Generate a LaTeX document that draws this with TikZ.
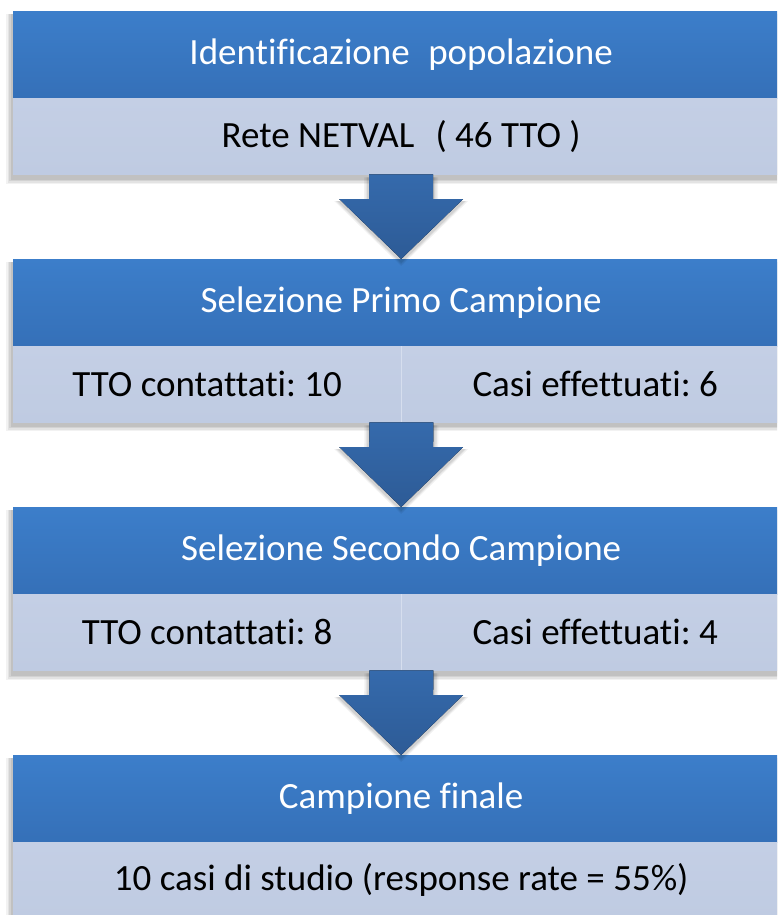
\documentclass[tikz,border=0pt]{standalone}
\usepackage{fontspec}
\setmainfont[Ligatures={TeX,NoCommon}]{Carlito}
\frenchspacing
\usetikzlibrary{calc}

\definecolor{hdrtop}{RGB}{60,126,202}
\definecolor{hdrbot}{RGB}{53,112,184}
\definecolor{bodytop}{RGB}{196,207,229}
\definecolor{bodybot}{RGB}{191,203,226}
\definecolor{arrtop}{RGB}{53,106,172}
\definecolor{arrbot}{RGB}{45,91,150}
\definecolor{divline}{RGB}{214,222,238}

\tikzset{
  header/.style={rectangle, anchor=north west, minimum width=776pt, minimum height=87pt,
    inner sep=0pt, top color=hdrtop, bottom color=hdrbot, text=white,
    font=\fontsize{37}{43}\selectfont},
  bodyrow/.style={rectangle, anchor=north west, minimum height=76pt,
    inner sep=0pt, top color=bodytop, bottom color=bodybot, text=black,
    font=\fontsize{37}{43}\selectfont},
  fullrow/.style={bodyrow, minimum width=776pt},
  halfrow/.style={bodyrow, minimum width=388pt},
  blockarrow/.style={top color=arrtop, bottom color=arrbot},
}

% soft shadow falling below and to the left of a rectangle given by two corners
\newcommand\softshadow[2]{%
  \foreach \s/\o in {6/0.05,4.5/0.06,3/0.07,1.5/0.08}{
    \fill[black, opacity=\o] ($(#1)+(-\s-1,3)$) rectangle ($(#2)+(\s-1,\s+4)$);
  }%
}

\begin{document}
\begin{tikzpicture}[x=1pt,y=-1pt]
  \useasboundingbox (0,0) rectangle (777,915);
  \clip (0,0) rectangle (777,915);
  \fill[white] (0,0) rectangle (777,915);

  % shadows of the four panels
  \softshadow{13,11}{789,174}
  \softshadow{13,259}{789,421}
  \softshadow{13,507}{789,670}
  \softshadow{13,755}{789,918}

  % panel 1
  \node[header] (h1) at (13,11) {Identificazione\hspace{0.5em}popolazione};
  \node[fullrow] (b1) at (13,98) {Rete NETVAL\hspace{0.35em} ( 46 TTO )};

  % panel 2
  \node[header] (h2) at (13,259) {Selezione Primo Campione};
  \node[halfrow] (b2l) at (13,346) {TTO contattati: 10};
  \node[halfrow] (b2r) at (401,346) {Casi effettuati: 6};
  \draw[divline, line width=1.2pt] (b2l.north east) -- (b2l.south east);

  % panel 3
  \node[header] (h3) at (13,507) {Selezione Secondo Campione};
  \node[halfrow] (b3l) at (13,594) {TTO contattati: 8};
  \node[halfrow] (b3r) at (401,594) {Casi effettuati: 4};
  \draw[divline, line width=1.2pt] (b3l.north east) -- (b3l.south east);

  % panel 4
  \node[header] (h4) at (13,755) {Campione finale};
  \node[fullrow] (b4) at (13,842) {10 casi di studio (response rate = 55\%)};

  % block arrows linking the panels
  \coordinate (a1) at (b1.south);
  \coordinate (a2) at (b2l.south east);
  \coordinate (a3) at (b3l.south east);
  \foreach \src/\dst in {a1/h2, a2/h3, a3/h4}{
    \foreach \s/\o in {5/0.05,3.5/0.06,2/0.08}{
      \fill[black, opacity=\o]
        ([xshift=-32pt-\s pt, yshift=-3pt]\src) -- ([xshift=32pt+\s pt, yshift=-3pt]\src)
        -- ([xshift=32pt+\s pt, yshift=58pt]\dst.north) -- ([xshift=62pt+\s pt, yshift=58pt]\dst.north)
        -- ([yshift=-2pt-\s pt]\dst.north)
        -- ([xshift=-62pt-\s pt, yshift=58pt]\dst.north) -- ([xshift=-32pt-\s pt, yshift=58pt]\dst.north)
        -- cycle;
    }
    \fill[blockarrow]
      ([xshift=-32pt]\src) -- ([xshift=32pt]\src)
      -- ([xshift=32pt, yshift=60pt]\dst.north) -- ([xshift=62pt, yshift=60pt]\dst.north)
      -- (\dst.north)
      -- ([xshift=-62pt, yshift=60pt]\dst.north) -- ([xshift=-32pt, yshift=60pt]\dst.north)
      -- cycle;
  }
\end{tikzpicture}
\end{document}
